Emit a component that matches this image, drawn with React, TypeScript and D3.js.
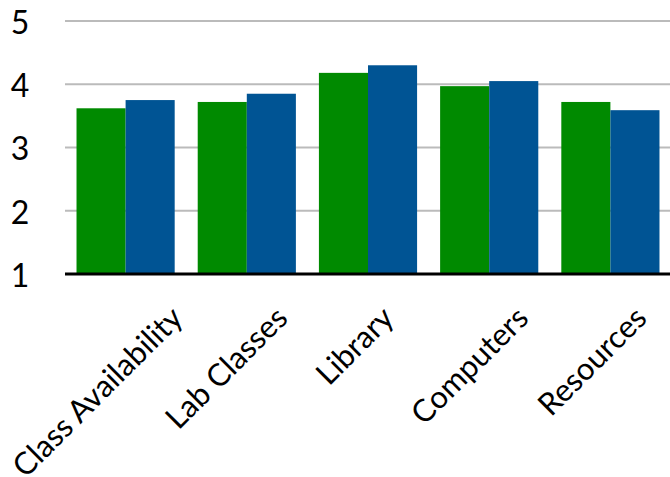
import React, { useEffect, useRef } from 'react';
import * as d3 from 'd3';

const categories = ['Class Availability', 'Lab Classes', 'Library', 'Computers', 'Resources'];
const seriesKeys = ['first', 'second'];
const firstValues = [3.62, 3.72, 4.18, 3.97, 3.72];
const secondValues = [3.75, 3.85, 4.3, 4.05, 3.59];
const yTicks = [1, 2, 3, 4, 5];
const colors = ['#008a00', '#005494'];

const FONT = 'Lato, "Gill Sans", "Open Sans", sans-serif';

const App: React.FC = () => {
  const svgRef = useRef<SVGSVGElement>(null);

  useEffect(() => {
    if (!svgRef.current) return;
    const svg = d3.select(svgRef.current);
    svg.selectAll('*').remove();

    const width = 670;
    const height = 477;
    const plotLeft = 65;
    const plotRight = 671;
    const plotTop = 21;
    const plotBottom = 274;

    const x0 = d3.scaleBand<string>()
      .domain(categories)
      .range([plotLeft, plotRight])
      .paddingInner(0.19)
      .paddingOuter(0.095);

    const x1 = d3.scaleBand<string>()
      .domain(seriesKeys)
      .range([0, x0.bandwidth()]);

    const y = d3.scaleLinear().domain([1, 5]).range([plotBottom, plotTop]);

    // gridlines
    svg.append('g')
      .selectAll('line')
      .data(yTicks.filter(t => t !== 1))
      .enter()
      .append('line')
      .attr('x1', plotLeft)
      .attr('x2', width)
      .attr('y1', d => y(d))
      .attr('y2', d => y(d))
      .attr('stroke', '#bbbbbb')
      .attr('stroke-width', 2);

    // bars
    const rows = categories.map((c, i) => ({ cat: c, vals: [firstValues[i], secondValues[i]] }));
    const groups = svg.append('g')
      .selectAll('g')
      .data(rows)
      .enter()
      .append('g')
      .attr('transform', d => `translate(${x0(d.cat)},0)`);

    groups.selectAll('rect')
      .data(d => d.vals.map((v, k) => ({ key: seriesKeys[k], v, k })))
      .enter()
      .append('rect')
      .attr('x', d => x1(d.key) as number)
      .attr('width', x1.bandwidth())
      .attr('y', d => y(d.v))
      .attr('height', d => y(1) - y(d.v))
      .attr('fill', d => colors[d.k]);

    // baseline axis
    svg.append('line')
      .attr('x1', plotLeft)
      .attr('x2', width)
      .attr('y1', y(1))
      .attr('y2', y(1))
      .attr('stroke', '#000')
      .attr('stroke-width', 3);

    // y tick labels
    svg.append('g')
      .selectAll('text')
      .data(yTicks)
      .enter()
      .append('text')
      .attr('x', 20)
      .attr('y', d => y(d))
      .attr('dy', '0.4em')
      .attr('text-anchor', 'middle')
      .attr('font-family', FONT)
      .attr('font-size', 32)
      .attr('fill', '#000')
      .text(d => String(d));

    // x labels, rotated
    const labels = svg.append('g')
      .selectAll('text')
      .data(categories)
      .enter()
      .append('text')
      .attr('text-anchor', 'end')
      .attr('font-family', FONT)
      .attr('font-size', 31)
      .attr('fill', '#000')
      .text(d => d);

    labels.each(function (d) {
      const node = this as SVGTextElement;
      const len = node.getComputedTextLength();
      const cx = (x0(d) as number) + x0.bandwidth() / 2;
      d3.select(node).attr('transform', `translate(${cx + 0.24 * len + 5},320) rotate(-45)`);
    });

    svg.attr('width', width).attr('height', height);
  }, []);

  return (
    <svg
      ref={svgRef}
      width={670}
      height={477}
      style={{ position: 'absolute', left: 0, top: 0, background: '#fff' }}
    />
  );
};

export default App;
